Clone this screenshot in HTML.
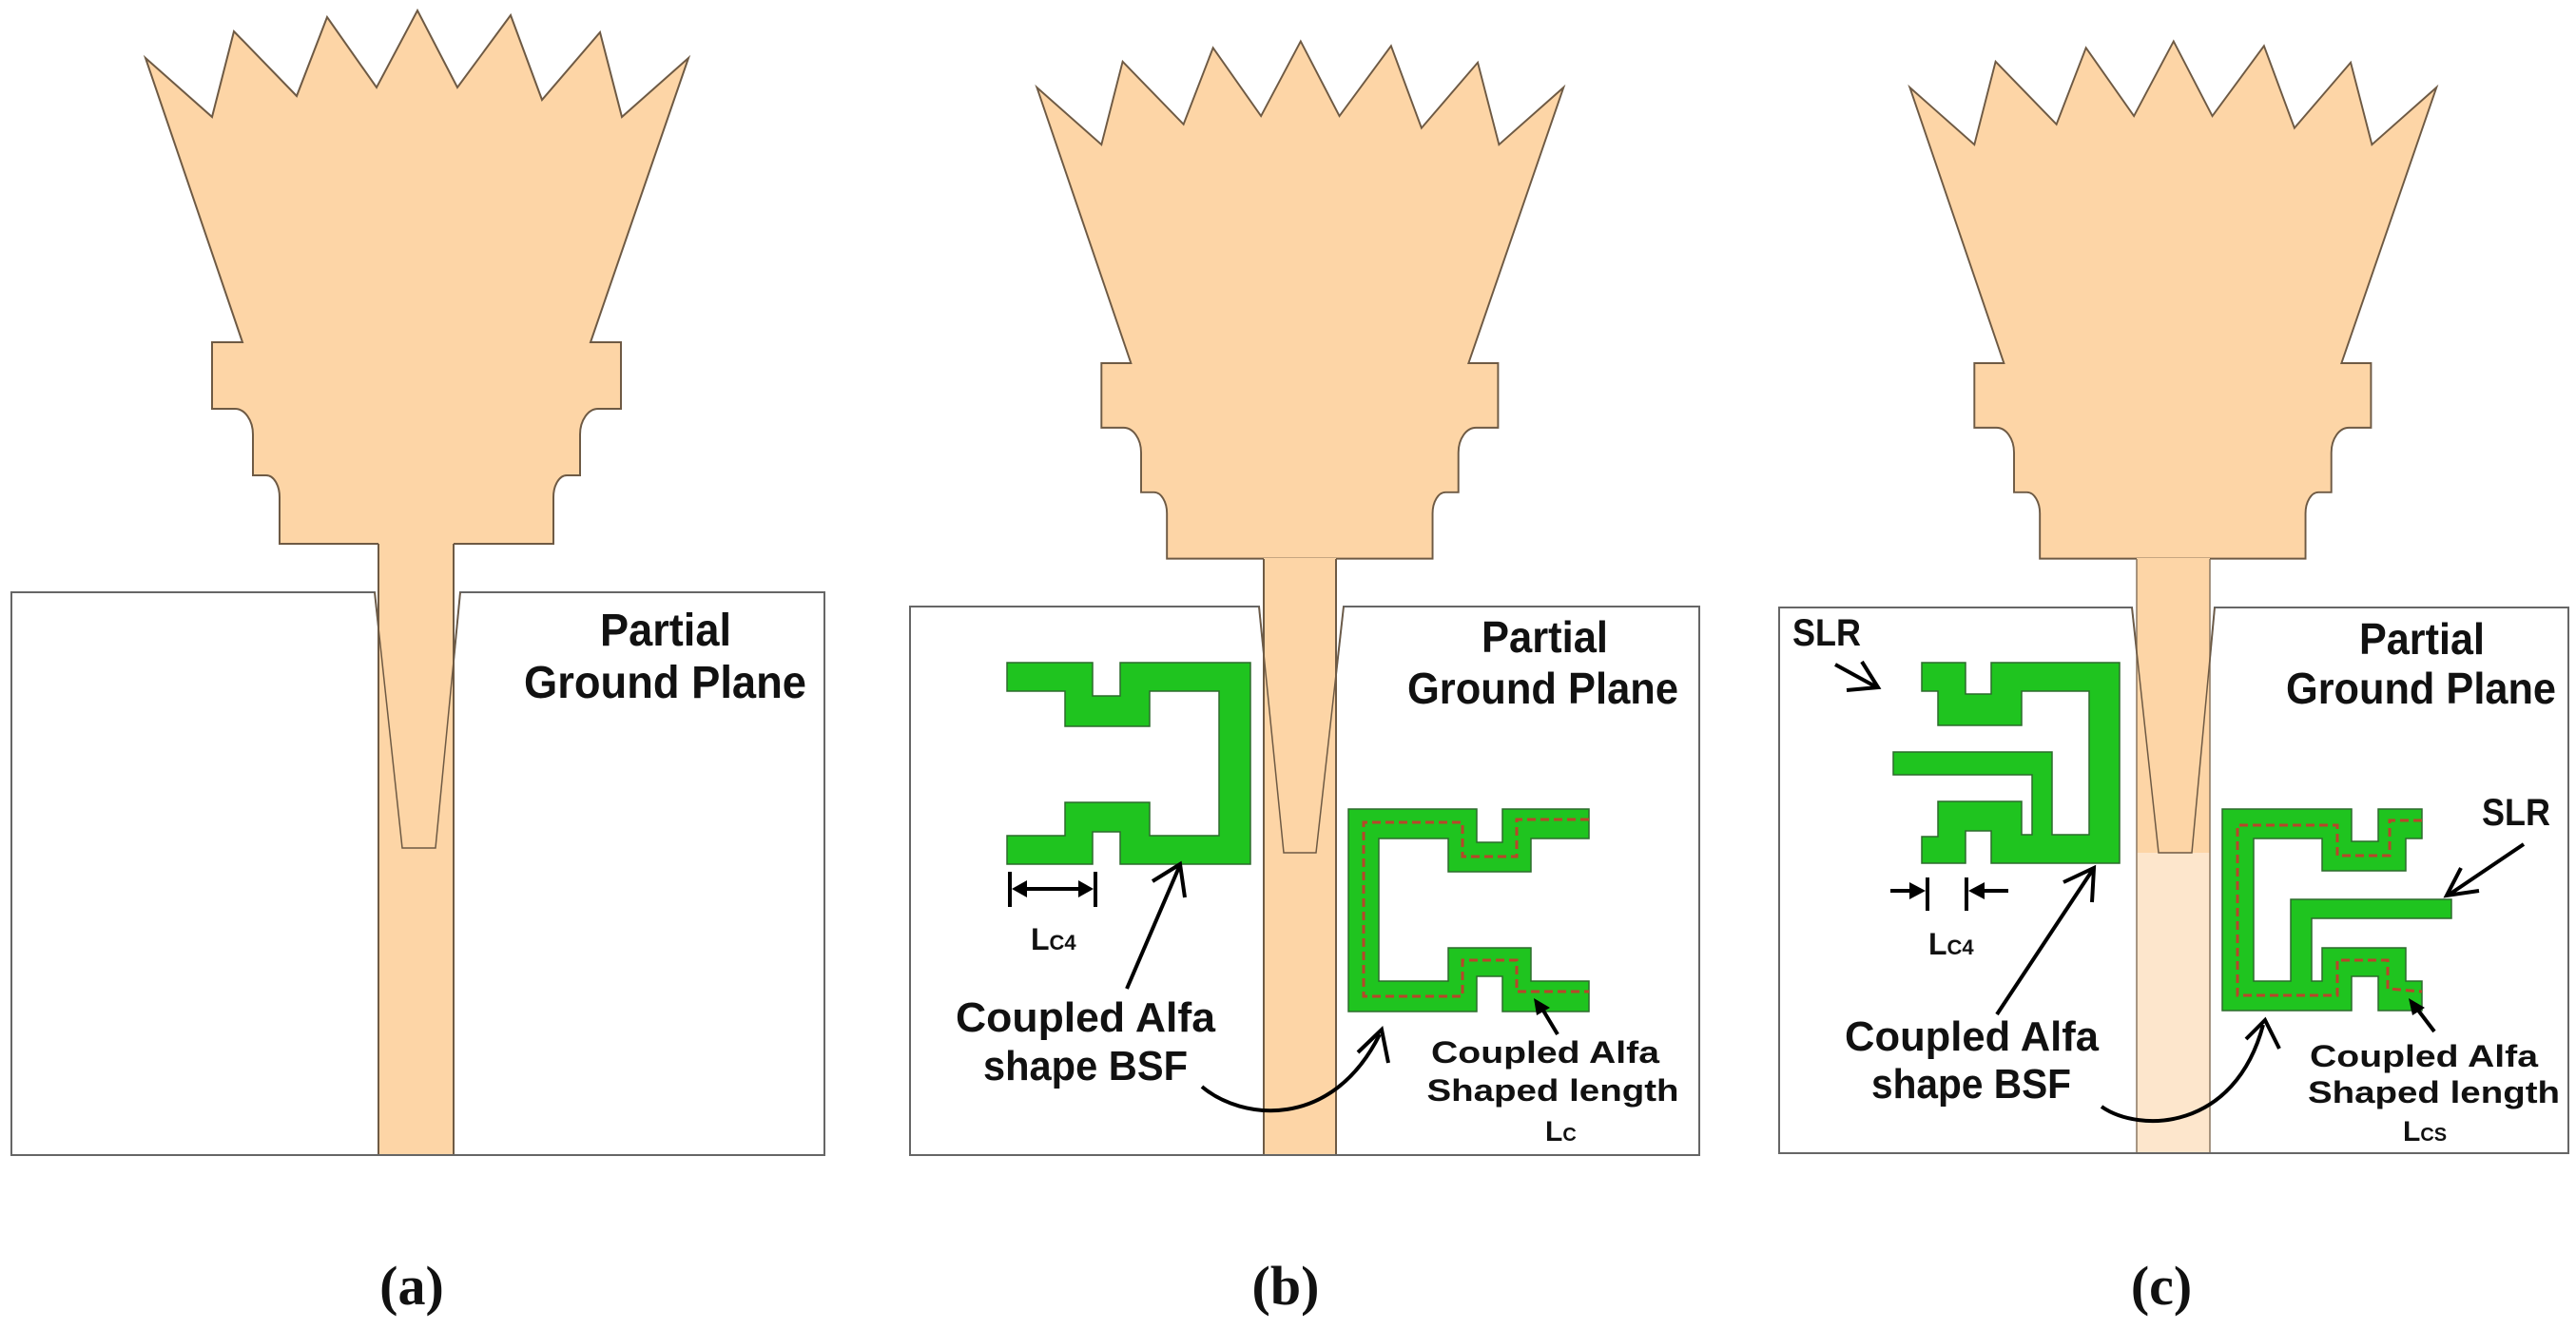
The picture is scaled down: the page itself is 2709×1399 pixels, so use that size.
<!DOCTYPE html>
<html><head><meta charset="utf-8"><style>
html,body{margin:0;padding:0;background:#fff;}
svg{display:block;}
text{font-family:"Liberation Sans",sans-serif;font-weight:bold;fill:#111;}
.cap{font-family:"Liberation Serif",serif;font-weight:bold;font-size:58px;}
</style></head><body>
<svg width="2709" height="1399" viewBox="0 0 2709 1399" xmlns="http://www.w3.org/2000/svg">
<defs>
<path id="patch" d="M153,61 L223,123 L246,33 L312,101 L344,18 L396,92 L439,11 L481,92 L537,16 L570,105 L631,34 L654,123 L724,61 L621,360 L653,360 L653,430 L629,430 A19 27 0 0 0 610,457 L610,500 L596,500 A14 23 0 0 0 582,523 L582,572 L477,572 L399,572 L294,572 L294,523 A14 23 0 0 0 280,500 L266,500 L266,457 A19 27 0 0 0 247,430 L223,430 L223,360 L255,360 Z"/>
</defs>

<!-- ===== Panel (a) ===== -->
<path d="M12,623 H394 L423,892 H458 L484,623 H867 V1215 H12 Z" fill="#fff" stroke="#666" stroke-width="2"/>
<use href="#patch" fill="#fdd5a6" stroke="#6e5a44" stroke-width="2"/>
<rect x="398" y="571" width="79" height="644" fill="#fdd5a6"/>
<line x1="398" y1="572" x2="398" y2="1215" stroke="#6e5a44" stroke-width="2"/>
<line x1="477" y1="572" x2="477" y2="1215" stroke="#6e5a44" stroke-width="2"/>
<path d="M394,623 L423,892 H458 L484,623" fill="none" stroke="#6e5a44" stroke-width="1.5"/>
<line x1="12" y1="1215" x2="867" y2="1215" stroke="#666" stroke-width="2"/>
<text x="631" y="679" font-size="48" textLength="138" lengthAdjust="spacingAndGlyphs">Partial</text>
<text x="551" y="734" font-size="48" textLength="297" lengthAdjust="spacingAndGlyphs">Ground Plane</text>
<text class="cap" x="433" y="1372" text-anchor="middle">(a)</text>

<!-- ===== Panel (b) ===== -->
<path d="M957,638 H1324 L1350,897 H1384 L1413,638 H1787 V1215 H957 Z" fill="#fff" stroke="#666" stroke-width="2"/>
<g transform="translate(942,32.8) scale(0.97)">
<use href="#patch" fill="#fdd5a6" stroke="#6e5a44" stroke-width="2"/>
</g>
<rect x="1329" y="587" width="76" height="628" fill="#fdd5a6"/>
<line x1="1329" y1="588" x2="1329" y2="1215" stroke="#6e5a44" stroke-width="2"/>
<line x1="1405" y1="588" x2="1405" y2="1215" stroke="#6e5a44" stroke-width="2"/>
<path d="M1324,638 L1350,897 H1384 L1413,638" fill="none" stroke="#6e5a44" stroke-width="1.5"/>
<line x1="957" y1="1215" x2="1787" y2="1215" stroke="#666" stroke-width="2"/>
<text x="1558" y="686" font-size="46" textLength="133" lengthAdjust="spacingAndGlyphs">Partial</text>
<text x="1480" y="740" font-size="46" textLength="285" lengthAdjust="spacingAndGlyphs">Ground Plane</text>

<path d="M1059,697 L1149,697 L1149,732 L1178,732 L1178,697 L1315,697 L1315,909 L1178,909 L1178,875 L1149,875 L1149,909 L1059,909 L1059,879 L1120,879 L1120,844 L1209,844 L1209,879 L1282,879 L1282,727 L1209,727 L1209,764 L1120,764 L1120,727 L1059,727 Z" fill="#1fc41f" stroke="#2d6b2d" stroke-width="1.5"/>
<line x1="1062" y1="917" x2="1062" y2="954" stroke="#000" stroke-width="4"/>
<line x1="1152" y1="917" x2="1152" y2="954" stroke="#000" stroke-width="4"/>
<line x1="1072" y1="935" x2="1142" y2="935" stroke="#000" stroke-width="4"/>
<polygon points="1064,935 1080,926 1080,944" fill="#000"/>
<polygon points="1150,935 1134,926 1134,944" fill="#000"/>
<text x="1084" y="999" font-size="32">L<tspan font-size="22">C4</tspan></text>
<line x1="1185" y1="1040" x2="1240" y2="912" stroke="#000" stroke-width="4"/>
<polyline points="1212,927 1241,909 1246,944" fill="none" stroke="#000" stroke-width="4"/>
<text x="1005" y="1085" font-size="44" textLength="273" lengthAdjust="spacingAndGlyphs">Coupled Alfa</text>
<text x="1034" y="1136" font-size="44" textLength="215" lengthAdjust="spacingAndGlyphs">shape BSF</text>
<path d="M1264,1143 C1305,1178 1400,1190 1451,1088" fill="none" stroke="#000" stroke-width="4"/>
<polyline points="1428,1107 1453,1083 1460,1118" fill="none" stroke="#000" stroke-width="4"/>
<path d="M1418,851 L1553,851 L1553,886 L1580,886 L1580,851 L1671,851 L1671,882 L1610,882 L1610,917 L1523,917 L1523,882 L1450,882 L1450,1032 L1523,1032 L1523,997 L1610,997 L1610,1032 L1671,1032 L1671,1064 L1580,1064 L1580,1027 L1553,1027 L1553,1064 L1418,1064 Z" fill="#1fc41f" stroke="#2d6b2d" stroke-width="1.5"/>
<path d="M1671,862 L1595,862 L1595,901 L1538,901 L1538,865 L1434,865 L1434,1048 L1538,1048 L1538,1010 L1595,1010 L1595,1043 L1671,1043" fill="none" stroke="#b8452a" stroke-width="3" stroke-dasharray="9,5"/>
<line x1="1638" y1="1088" x2="1620" y2="1058" stroke="#000" stroke-width="4"/>
<polygon points="1613,1050 1630,1060 1616,1068" fill="#000"/>
<text x="1625" y="1118" font-size="32" text-anchor="middle" textLength="240" lengthAdjust="spacingAndGlyphs">Coupled Alfa</text>
<text x="1633" y="1158" font-size="32" text-anchor="middle" textLength="265" lengthAdjust="spacingAndGlyphs">Shaped length</text>
<text x="1625" y="1200" font-size="30">L<tspan font-size="20">C</tspan></text>
<text class="cap" x="1352" y="1372" text-anchor="middle">(b)</text>

<!-- ===== Panel (c) ===== -->
<path d="M1871,639 H2242 L2270,897 H2305 L2329,639 H2701 V1213 H1871 Z" fill="#fff" stroke="#666" stroke-width="2"/>
<g transform="translate(1860,32.8) scale(0.97)">
<use href="#patch" fill="#fdd5a6" stroke="#6e5a44" stroke-width="2"/>
</g>
<rect x="2247" y="587" width="77" height="310" fill="#fdd5a6"/>
<rect x="2247" y="897" width="77" height="316" fill="#fde6cc"/>
<line x1="2247" y1="588" x2="2247" y2="1213" stroke="#8a7760" stroke-width="1.5"/>
<line x1="2324" y1="588" x2="2324" y2="1213" stroke="#8a7760" stroke-width="1.5"/>
<path d="M2242,639 L2270,897 H2305 L2329,639" fill="none" stroke="#6e5a44" stroke-width="1.5"/>
<line x1="1871" y1="1213" x2="2701" y2="1213" stroke="#666" stroke-width="2"/>
<text x="2481" y="688" font-size="46" textLength="132" lengthAdjust="spacingAndGlyphs">Partial</text>
<text x="2404" y="740" font-size="46" textLength="284" lengthAdjust="spacingAndGlyphs">Ground Plane</text>
<text x="1885" y="679" font-size="40" textLength="72" lengthAdjust="spacingAndGlyphs">SLR</text>
<line x1="1930" y1="699" x2="1972" y2="722" stroke="#000" stroke-width="4"/>
<polyline points="1958,696 1975,723 1942,726" fill="none" stroke="#000" stroke-width="4"/>
<path d="M2021,908 L2021,880 L2038,880 L2038,843 L2126,843 L2126,878 L2137,878 L2137,815 L1991,815 L1991,791 L2158,791 L2158,878 L2197,878 L2197,727 L2126,727 L2126,763 L2038,763 L2038,727 L2021,727 L2021,697 L2067,697 L2067,730 L2094,730 L2094,697 L2229,697 L2229,908 L2094,908 L2094,874 L2067,874 L2067,908 Z" fill="#1fc41f" stroke="#2d6b2d" stroke-width="1.5"/>
<line x1="2027" y1="923" x2="2027" y2="958" stroke="#000" stroke-width="4"/>
<line x1="2068" y1="923" x2="2068" y2="958" stroke="#000" stroke-width="4"/>
<line x1="1988" y1="937" x2="2012" y2="937" stroke="#000" stroke-width="4"/>
<polygon points="2025,937 2008,928 2008,946" fill="#000"/>
<line x1="2084" y1="937" x2="2112" y2="937" stroke="#000" stroke-width="4"/>
<polygon points="2070,937 2087,928 2087,946" fill="#000"/>
<text x="2028" y="1004" font-size="32">L<tspan font-size="22">C4</tspan></text>
<line x1="2100" y1="1067" x2="2200" y2="916" stroke="#000" stroke-width="4"/>
<polyline points="2170,928 2202,913 2200,949" fill="none" stroke="#000" stroke-width="4"/>
<text x="1940" y="1105" font-size="44" textLength="267" lengthAdjust="spacingAndGlyphs">Coupled Alfa</text>
<text x="1968" y="1155" font-size="44" textLength="210" lengthAdjust="spacingAndGlyphs">shape BSF</text>
<path d="M2210,1164 C2250,1192 2350,1190 2380,1078" fill="none" stroke="#000" stroke-width="4"/>
<polyline points="2362,1093 2382,1073 2397,1103" fill="none" stroke="#000" stroke-width="4"/>
<path d="M2337,851 L2473,851 L2473,885 L2501,885 L2501,851 L2547,851 L2547,882 L2530,882 L2530,916 L2442,916 L2442,882 L2370,882 L2370,1032 L2409,1032 L2409,946 L2578,946 L2578,966 L2431,966 L2431,1032 L2442,1032 L2442,997 L2530,997 L2530,1032 L2547,1032 L2547,1063 L2501,1063 L2501,1027 L2473,1027 L2473,1063 L2337,1063 Z" fill="#1fc41f" stroke="#2d6b2d" stroke-width="1.5"/>
<path d="M2547,863 L2513,863 L2513,900 L2458,900 L2458,868 L2353,868 L2353,1047 L2458,1047 L2458,1010 L2511,1010 L2511,1040 L2547,1043" fill="none" stroke="#b8452a" stroke-width="3" stroke-dasharray="9,5"/>
<text x="2610" y="868" font-size="40" textLength="72" lengthAdjust="spacingAndGlyphs">SLR</text>
<line x1="2654" y1="888" x2="2577" y2="940" stroke="#000" stroke-width="4"/>
<polyline points="2588,913 2573,942 2607,937" fill="none" stroke="#000" stroke-width="4"/>
<line x1="2560" y1="1085" x2="2541" y2="1060" stroke="#000" stroke-width="4"/>
<polygon points="2533,1050 2550,1060 2537,1068" fill="#000"/>
<text x="2429" y="1122" font-size="32" textLength="240" lengthAdjust="spacingAndGlyphs">Coupled Alfa</text>
<text x="2427" y="1160" font-size="32" textLength="265" lengthAdjust="spacingAndGlyphs">Shaped length</text>
<text x="2527" y="1200" font-size="30">L<tspan font-size="20">CS</tspan></text>
<text class="cap" x="2273" y="1372" text-anchor="middle">(c)</text>
</svg>
</body></html>
